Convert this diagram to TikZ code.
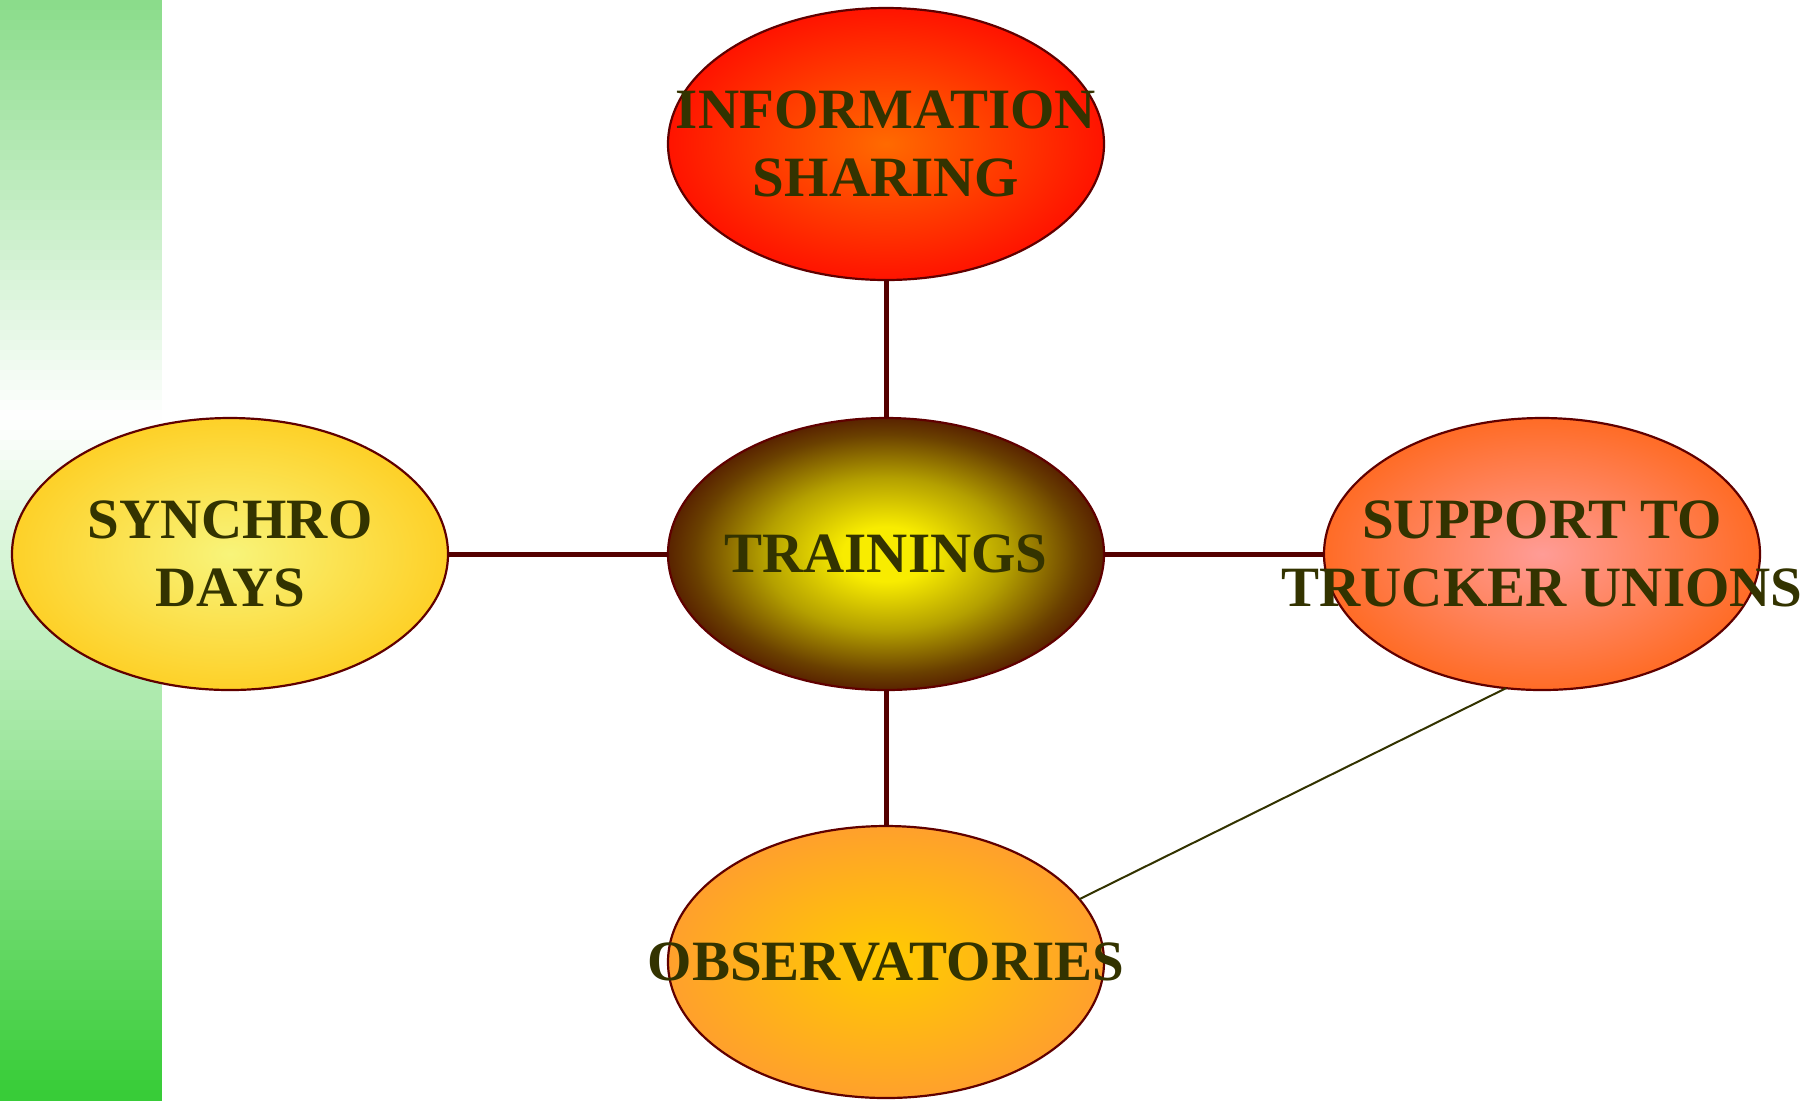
\documentclass[tikz,border=0pt]{standalone}
\usepackage{fontspec}
\setmainfont{Liberation Serif}
\usetikzlibrary{shapes.geometric}
\definecolor{txt}{HTML}{333300}
\definecolor{edgeRed}{HTML}{600000}
\definecolor{linkRed}{HTML}{550000}
\definecolor{barT}{HTML}{8ADC8A}
\definecolor{barB}{HTML}{36CC36}
\definecolor{infoIn}{HTML}{FF6A00}
\definecolor{infoOut}{HTML}{FF1000}
\definecolor{trIn}{HTML}{F8EC00}
\definecolor{trMid}{HTML}{B4A000}
\definecolor{trDark}{HTML}{6A4000}
\definecolor{trOut}{HTML}{480600}
\definecolor{supIn}{HTML}{FF9C96}
\definecolor{supOut}{HTML}{FF6414}
\definecolor{obsIn}{HTML}{FFCC00}
\definecolor{obsOut}{HTML}{FF9933}
\definecolor{synIn}{HTML}{F8F47A}
\definecolor{synOut}{HTML}{FFC814}
\pgfdeclareradialshading{shInfo}{\pgfpoint{0bp}{0bp}}{color(0bp)=(infoIn); color(26bp)=(infoOut); color(50bp)=(infoOut)}
\pgfdeclareradialshading{shTrain}{\pgfpoint{0bp}{0bp}}{color(0bp)=(trIn); color(5bp)=(trIn); color(14bp)=(trMid); color(22bp)=(trDark); color(28bp)=(trOut); color(50bp)=(trOut)}
\pgfdeclareradialshading{shSup}{\pgfpoint{0bp}{0bp}}{color(0bp)=(supIn); color(29bp)=(supOut); color(50bp)=(supOut)}
\pgfdeclareradialshading{shObs}{\pgfpoint{0bp}{0bp}}{color(0bp)=(obsIn); color(29bp)=(obsOut); color(50bp)=(obsOut)}
\pgfdeclareradialshading{shSyn}{\pgfpoint{0bp}{0bp}}{color(0bp)=(synIn); color(31bp)=(synOut); color(50bp)=(synOut)}
\begin{document}
\begin{tikzpicture}[x=0.5pt,y=-0.5pt,
  bubble/.style={ellipse, draw=edgeRed, line width=1.1pt, minimum width=218pt, minimum height=136pt, inner sep=0pt, outer sep=0pt},
  lbl/.style={font=\fontsize{28.5}{34}\selectfont\bfseries, text=txt, align=center},
  thicklink/.style={draw=linkRed, line width=2.5pt},
  thinlink/.style={draw=txt, line width=1pt}]
\useasboundingbox (0,0) rectangle (1818,1100);
% green band: vertical gradient, light green at top, white near y=420, green at bottom
\foreach \i in {0,...,109}{
  \pgfmathsetmacro{\yy}{\i*10+5}
  \ifdim\yy pt<420pt
    \pgfmathsetmacro{\pw}{\yy/4.2}
    \fill[white!\pw!barT] (0,\i*10) rectangle (162,\i*10+10.6);
  \else
    \pgfmathsetmacro{\pw}{100-(\yy-420)/6.8}
    \fill[white!\pw!barB] (0,\i*10) rectangle (162,\i*10+10.6);
  \fi
}
\node[bubble, shade, shading=shInfo, label={[lbl]center:{INFORMATION\\SHARING}}] (info) at (886,144) {};
\node[bubble, shade, shading=shTrain, label={[lbl]center:{TRAININGS}}] (train) at (886,554) {};
\node[bubble, shade, shading=shSyn, label={[lbl]center:{SYNCHRO\\DAYS}}] (syn) at (230,554) {};
\node[bubble, shade, shading=shSup, label={[lbl]center:{SUPPORT TO\\TRUCKER UNIONS}}] (sup) at (1542,554) {};
\node[bubble, shade, shading=shObs, label={[lbl]center:{OBSERVATORIES}}] (obs) at (886,962) {};
\draw[thicklink] (info) -- (train);
\draw[thicklink] (train) -- (syn);
\draw[thicklink] (train) -- (sup);
\draw[thicklink] (train) -- (obs);
\draw[thinlink] (sup.-105) -- (obs.18);
\end{tikzpicture}
\end{document}
